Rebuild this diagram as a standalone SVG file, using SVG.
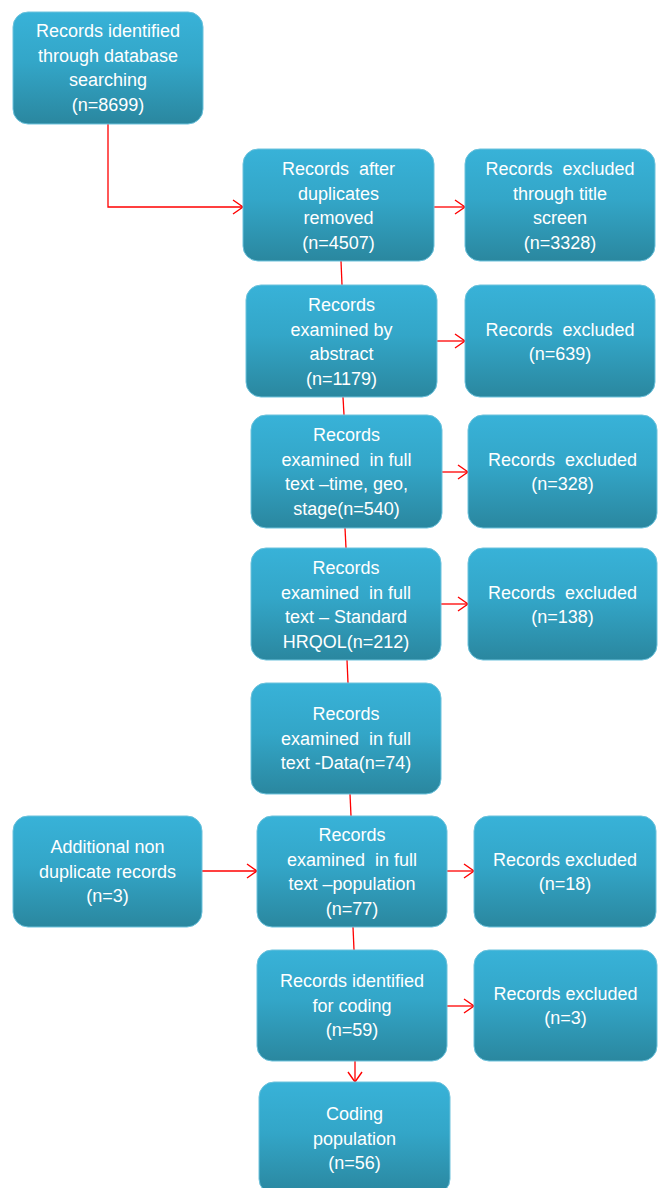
<svg xmlns="http://www.w3.org/2000/svg" width="658" height="1188" viewBox="0 0 658 1188">
  <defs>
    <linearGradient id="boxFill" x1="0" y1="0" x2="0" y2="1">
      <stop offset="0" stop-color="#38b2d8"/>
      <stop offset="0.45" stop-color="#33a6c8"/>
      <stop offset="1" stop-color="#2a879f"/>
    </linearGradient>
    <marker id="arrow" markerUnits="userSpaceOnUse" markerWidth="14" markerHeight="16" refX="11" refY="8" orient="auto">
      <path d="M1,1 L11,8 L1,15" fill="none" stroke="#ff0000" stroke-width="1.4"/>
    </marker>
    <style>
      .box { fill: url(#boxFill); stroke: #6cc2dc; stroke-width: 1; }
      .lbl { font-family: "Liberation Sans", Arial, sans-serif; font-size: 18px; fill: #ffffff; text-anchor: middle; white-space: pre; }
      .link { fill: none; stroke: #ff0000; stroke-width: 1.3; }
    </style>
  </defs>

  <rect width="658" height="1188" fill="#ffffff"/>

  <!-- connectors -->
  <g id="connectors">
    <polyline class="link" points="108,124 108,207 243,207" marker-end="url(#arrow)"/>
    <line class="link" x1="434" y1="207" x2="465" y2="207" marker-end="url(#arrow)"/>
    <line class="link" x1="341" y1="261" x2="342" y2="285"/>
    <line class="link" x1="437" y1="341" x2="465" y2="341" marker-end="url(#arrow)"/>
    <line class="link" x1="343" y1="397" x2="344" y2="415"/>
    <line class="link" x1="442" y1="472" x2="468" y2="472" marker-end="url(#arrow)"/>
    <line class="link" x1="345" y1="528" x2="346" y2="548"/>
    <line class="link" x1="441" y1="604" x2="468" y2="604" marker-end="url(#arrow)"/>
    <line class="link" x1="347" y1="660" x2="348" y2="683"/>
    <line class="link" x1="350" y1="794" x2="351" y2="816"/>
    <line class="link" x1="202" y1="871" x2="257" y2="871" marker-end="url(#arrow)"/>
    <line class="link" x1="447" y1="871" x2="474" y2="871" marker-end="url(#arrow)"/>
    <line class="link" x1="353" y1="927" x2="354" y2="950"/>
    <line class="link" x1="447" y1="1006" x2="474" y2="1006" marker-end="url(#arrow)"/>
    <line class="link" x1="355" y1="1061" x2="355" y2="1082" marker-end="url(#arrow)"/>
  </g>

  <g id="n-identified">
    <rect class="box" x="13" y="12" width="190" height="112" rx="15"/>
    <text class="lbl" x="108" y="37">Records identified</text>
    <text class="lbl" x="108" y="62">through database</text>
    <text class="lbl" x="108" y="86">searching</text>
    <text class="lbl" x="108" y="111">(n=8699)</text>
  </g>

  <g id="n-dedup">
    <rect class="box" x="243" y="149" width="191" height="112" rx="15"/>
    <text class="lbl" x="338.5" y="175">Records  after</text>
    <text class="lbl" x="338.5" y="200">duplicates</text>
    <text class="lbl" x="338.5" y="224">removed</text>
    <text class="lbl" x="338.5" y="249">(n=4507)</text>
  </g>

  <g id="n-excl-title">
    <rect class="box" x="465" y="149" width="190" height="112" rx="15"/>
    <text class="lbl" x="560" y="175">Records  excluded</text>
    <text class="lbl" x="560" y="200">through title</text>
    <text class="lbl" x="560" y="224">screen</text>
    <text class="lbl" x="560" y="249">(n=3328)</text>
  </g>

  <g id="n-abstract">
    <rect class="box" x="246" y="285" width="191" height="112" rx="15"/>
    <text class="lbl" x="341.5" y="311">Records</text>
    <text class="lbl" x="341.5" y="336">examined by</text>
    <text class="lbl" x="341.5" y="360">abstract</text>
    <text class="lbl" x="341.5" y="385">(n=1179)</text>
  </g>

  <g id="n-excl-abstract">
    <rect class="box" x="465" y="285" width="190" height="112" rx="15"/>
    <text class="lbl" x="560" y="336">Records  excluded</text>
    <text class="lbl" x="560" y="360">(n=639)</text>
  </g>

  <g id="n-fulltext-time">
    <rect class="box" x="251" y="415" width="191" height="113" rx="15"/>
    <text class="lbl" x="346.5" y="441">Records</text>
    <text class="lbl" x="346.5" y="466">examined  in full</text>
    <text class="lbl" x="346.5" y="490">text –time, geo,</text>
    <text class="lbl" x="346.5" y="515">stage(n=540)</text>
  </g>

  <g id="n-excl-time">
    <rect class="box" x="468" y="415" width="189" height="113" rx="15"/>
    <text class="lbl" x="562.5" y="466">Records  excluded</text>
    <text class="lbl" x="562.5" y="490">(n=328)</text>
  </g>

  <g id="n-fulltext-hrqol">
    <rect class="box" x="251" y="548" width="190" height="112" rx="15"/>
    <text class="lbl" x="346" y="574">Records</text>
    <text class="lbl" x="346" y="599">examined  in full</text>
    <text class="lbl" x="346" y="623">text – Standard</text>
    <text class="lbl" x="346" y="648">HRQOL(n=212)</text>
  </g>

  <g id="n-excl-hrqol">
    <rect class="box" x="468" y="548" width="189" height="112" rx="15"/>
    <text class="lbl" x="562.5" y="599">Records  excluded</text>
    <text class="lbl" x="562.5" y="623">(n=138)</text>
  </g>

  <g id="n-fulltext-data">
    <rect class="box" x="251" y="683" width="190" height="111" rx="15"/>
    <text class="lbl" x="346" y="720">Records</text>
    <text class="lbl" x="346" y="745">examined  in full</text>
    <text class="lbl" x="346" y="769">text -Data(n=74)</text>
  </g>

  <g id="n-additional">
    <rect class="box" x="13" y="816" width="189" height="111" rx="15"/>
    <text class="lbl" x="107.5" y="853">Additional non</text>
    <text class="lbl" x="107.5" y="878">duplicate records</text>
    <text class="lbl" x="107.5" y="902">(n=3)</text>
  </g>

  <g id="n-fulltext-population">
    <rect class="box" x="257" y="816" width="190" height="111" rx="15"/>
    <text class="lbl" x="352" y="841">Records</text>
    <text class="lbl" x="352" y="866">examined  in full</text>
    <text class="lbl" x="352" y="890">text –population</text>
    <text class="lbl" x="352" y="915">(n=77)</text>
  </g>

  <g id="n-excl-population">
    <rect class="box" x="474" y="816" width="182" height="111" rx="15"/>
    <text class="lbl" x="565" y="866">Records excluded</text>
    <text class="lbl" x="565" y="890">(n=18)</text>
  </g>

  <g id="n-coding">
    <rect class="box" x="257" y="950" width="190" height="111" rx="15"/>
    <text class="lbl" x="352" y="987">Records identified</text>
    <text class="lbl" x="352" y="1012">for coding</text>
    <text class="lbl" x="352" y="1036">(n=59)</text>
  </g>

  <g id="n-excl-coding">
    <rect class="box" x="474" y="950" width="183" height="111" rx="15"/>
    <text class="lbl" x="565.5" y="1000">Records excluded</text>
    <text class="lbl" x="565.5" y="1024">(n=3)</text>
  </g>

  <g id="n-coding-population">
    <rect class="box" x="259" y="1082" width="191" height="112" rx="15"/>
    <text class="lbl" x="354.5" y="1120">Coding</text>
    <text class="lbl" x="354.5" y="1145">population</text>
    <text class="lbl" x="354.5" y="1169">(n=56)</text>
  </g>
</svg>
